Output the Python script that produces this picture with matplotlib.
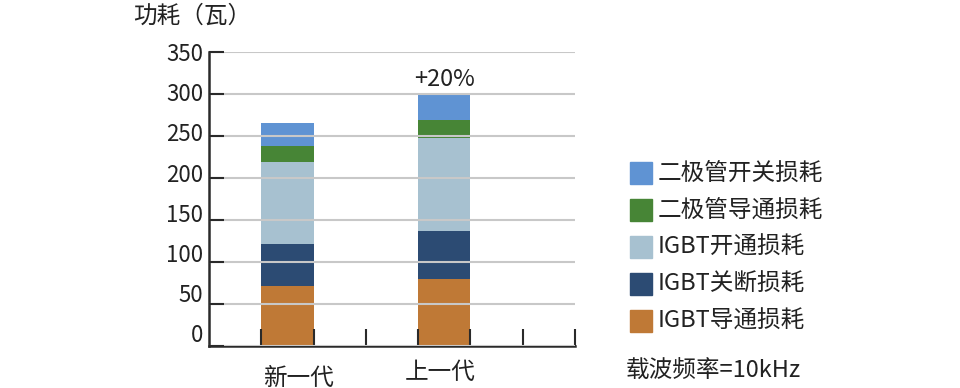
import matplotlib
import matplotlib.pyplot as plt
import matplotlib.transforms as mtransforms
import numpy as np

matplotlib.use("Agg")

plt.rcParams["font.family"] = ["Noto Sans CJK SC", "DejaVu Sans"]

# data
categories = ["新一代", "上一代"]
series_names = ["IGBT导通损耗", "IGBT关断损耗", "IGBT开通损耗", "二极管导通损耗", "二极管开关损耗"]
igbt_cond = [71, 80]
igbt_off = [50, 57]
igbt_on = [98, 111]
diode_cond = [19, 21]
diode_sw = [27, 31]
yticks = [0, 50, 100, 150, 200, 250, 300, 350]
note_label = "+20%"

colors = ["#bf7936", "#2c4b73", "#a7c1d0", "#478536", "#5f93d3"]
text_c = "#222222"
axis_c = "#2a2a2a"

fig = plt.figure(figsize=(9.6, 3.88), dpi=100)
ax = fig.add_axes([209 / 960, 1 - 346 / 388, 366 / 960, 294 / 388])

bar_x = [0, 3]
series = [igbt_cond, igbt_off, igbt_on, diode_cond, diode_sw]
bottom = np.zeros(len(categories))
for vals, c in zip(series, colors):
    ax.bar(bar_x, vals, width=1, align="edge", bottom=bottom, color=c, zorder=2, linewidth=0)
    bottom += np.array(vals)

ax.set_xlim(-1, 6)
ax.set_ylim(0, 350)
ax.set_yticks(yticks)
ax.set_xticks(range(7))
ax.set_xticklabels([])
ax.grid(axis="y", color="#c8c8c8", linewidth=1.5, zorder=0)
ax.tick_params(axis="y", direction="in", length=11, width=1.5, color=axis_c,
               labelsize=16, labelcolor=text_c, pad=4)
ax.tick_params(axis="x", direction="in", length=12, width=1.5, color=axis_c)
for s in ["top", "right"]:
    ax.spines[s].set_visible(False)
for s in ["left", "bottom"]:
    ax.spines[s].set_color(axis_c)
    ax.spines[s].set_linewidth(1.8)
ax.set_axisbelow(False)
for line in ax.get_xticklines() + ax.get_yticklines():
    line.set_zorder(5)

# tick labels in the reference sit a bit tighter than the gridlines
for v, lab in zip(yticks, ax.get_yticklabels()):
    dy = 9 * (1 - v / 350) / 72
    lab.set_transform(lab.get_transform() + mtransforms.ScaledTranslation(0, dy, fig.dpi_scale_trans))

# category labels
fig.text(298 / 960, 1 - 378 / 388, categories[0], ha="center", va="center", fontsize=17, color=text_c)
fig.text(440 / 960, 1 - 372 / 388, categories[1], ha="center", va="center", fontsize=17, color=text_c)

ax.text(bar_x[1] + 0.5, bottom[1] + 4, note_label, ha="center", va="bottom", fontsize=17, color=text_c)

fig.text(133 / 960, 1 - 16 / 388, "功耗（瓦）", ha="left", va="center", fontsize=17, color=text_c)

# legend
for i, (name, c) in enumerate(zip(series_names[::-1], colors[::-1])):
    yc = 173 + 37 * i
    fig.patches.append(plt.Rectangle((630 / 960, 1 - (yc + 11) / 388), 22 / 960, 22 / 388,
                                     transform=fig.transFigure, color=c, figure=fig))
    fig.text(658 / 960, 1 - yc / 388, name, ha="left", va="center", fontsize=17, color=text_c)

fig.text(626 / 960, 1 - 371 / 388, "载波频率=10kHz", ha="left", va="center", fontsize=17, color=text_c)

fig.savefig("out.png", dpi=100)
